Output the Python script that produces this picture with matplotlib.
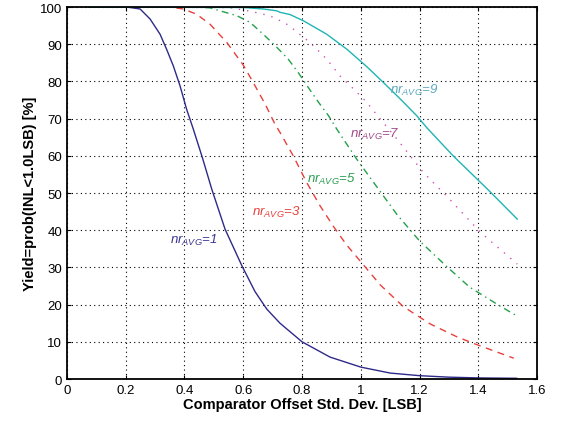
import numpy as np
import matplotlib.pyplot as plt

# Yield vs comparator offset std. dev.
x1 = [0.075, 0.2, 0.214, 0.249, 0.283, 0.317, 0.339, 0.362, 0.385, 0.407, 0.430, 0.461, 0.493,
      0.538, 0.595, 0.640, 0.680, 0.725, 0.8, 0.895, 1.0, 1.1, 1.2, 1.3, 1.4, 1.53]
y1 = [100, 100, 99.9, 99.5, 96.8, 92.7, 88.7, 84.2, 78.8, 72.6, 67.2, 59.5, 51.0,
      40.3, 30.5, 23.5, 18.8, 15.0, 10, 5.9, 3.2, 1.6, 0.9, 0.5, 0.3, 0.2]

x3 = [0.075, 0.35, 0.396, 0.441, 0.487, 0.544, 0.600, 0.634, 0.674, 0.708, 0.725, 0.770, 0.816,
      0.861, 0.907, 0.952, 0.997, 1.066, 1.144, 1.236, 1.328, 1.396, 1.52]
y3 = [100, 100, 99.5, 98.1, 95.4, 90.5, 84.4, 79.7, 74.0, 68.5, 66.3, 60.0, 52.8,
      46.6, 41.0, 36.0, 31.8, 25.3, 19.5, 14.8, 11.3, 9.2, 5.6]

x5 = [0.075, 0.45, 0.487, 0.521, 0.578, 0.623, 0.668, 0.714, 0.753, 0.787, 0.821, 0.856, 0.890,
      0.918, 0.986, 1.123, 1.20, 1.29, 1.37, 1.474, 1.53]
y5 = [100, 100, 99.8, 99.0, 97.7, 95.9, 92.7, 89.2, 86.0, 82.4, 78.4, 74.4, 70.8,
      67.2, 59.1, 44.2, 37.1, 30.4, 24.7, 19.6, 17.0]

x7 = [0.075, 0.55, 0.617, 0.668, 0.702, 0.748, 0.770, 0.827, 0.884, 0.929, 0.975, 1.020, 1.066,
      1.123, 1.212, 1.30, 1.406, 1.532]
y7 = [100, 99.9, 99.0, 98.1, 97.3, 95.4, 94.1, 90.5, 86.0, 81.5, 78.0, 74.4, 69.9,
      64.5, 55.6, 48.5, 39.5, 30.9]

x9 = [0.075, 0.60, 0.668, 0.714, 0.725, 0.759, 0.805, 0.884, 0.952, 1.020, 1.077, 1.134, 1.190,
      1.224, 1.314, 1.43, 1.532]
y9 = [100, 99.9, 99.5, 99.0, 98.6, 98.0, 96.3, 92.7, 88.7, 84.0, 79.7, 75.3, 70.8,
      67.6, 60.0, 51.1, 43.0]

labels = ["1", "3", "5", "7", "9"]

plt.rcParams['font.family'] = ['Liberation Sans', 'DejaVu Sans']
plt.rcParams['mathtext.fontset'] = 'custom'
plt.rcParams['mathtext.it'] = 'Liberation Sans:italic'
plt.rcParams['mathtext.rm'] = 'Liberation Sans'

fig = plt.figure(figsize=(5.62, 4.27), dpi=100)
ax = fig.add_axes([0.119, 0.110, 0.837, 0.871])

ax.plot(x1, y1, color="#2e2a88", lw=1.0, ls="-")
ax.plot(x3, y3, color="#e8403c", lw=1.0, ls=(0, (5, 4)))
ax.plot(x5, y5, color="#22a04a", lw=1.0, ls=(0, (5, 3, 1, 3)))
ax.plot(x7, y7, color="#d050b0", lw=1.0, ls=(0, (1, 5)))
ax.plot(x9, y9, color="#20b4b4", lw=1.0, ls="-")

# curve labels
ax.text(0.35, 36.5, r"$nr_{AVG}$=" + labels[0], color="#3a3690", fontsize=9.5, style="italic")
ax.text(0.63, 44.0, r"$nr_{AVG}$=" + labels[1], color="#e8403c", fontsize=9.5, style="italic")
ax.text(0.817, 53.0, r"$nr_{AVG}$=" + labels[2], color="#2a9e50", fontsize=9.5, style="italic")
ax.text(0.963, 65.0, r"$nr_{AVG}$=" + labels[3], color="#a04a8a", fontsize=9.5, style="italic")
ax.text(1.10, 77.0, r"$nr_{AVG}$=" + labels[4], color="#5aa8c0", fontsize=9.5, style="italic")

ax.set_xlim(0, 1.6)
ax.set_ylim(0, 100)
ax.set_xticks(np.arange(0, 1.61, 0.2))
ax.set_xticklabels(["0", "0.2", "0.4", "0.6", "0.8", "1", "1.2", "1.4", "1.6"])
ax.set_yticks(np.arange(0, 101, 10))
ax.tick_params(direction="in", top=True, right=True, labelsize=9.5, length=3)
ax.grid(True, color="black", ls=(0, (1, 3)), lw=0.8)
for s in ax.spines.values():
    s.set_linewidth(1.3)

ax.set_xlabel("Comparator Offset Std. Dev. [LSB]", fontsize=10.5, fontweight="bold", labelpad=1)
ax.set_ylabel("Yield=prob(INL<1.0LSB) [%]", fontsize=10.5, fontweight="bold", labelpad=2)

fig.savefig("out.png", dpi=100)
